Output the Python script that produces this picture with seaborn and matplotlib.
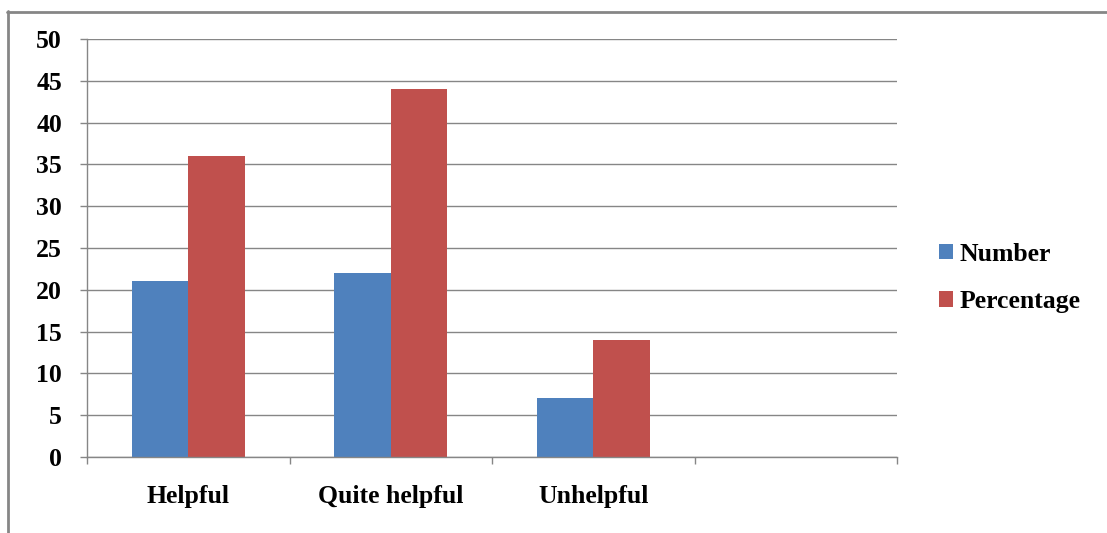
import matplotlib
matplotlib.use("Agg")
import matplotlib.pyplot as plt
from matplotlib.lines import Line2D
from matplotlib.patches import Patch
import seaborn as sns
import pandas as pd

categories = ["Helpful", "Quite helpful", "Unhelpful"]
number = [21, 22, 7]
percentage = [36, 44, 14]
series_names = ["Number", "Percentage"]
y_ticks = [0, 5, 10, 15, 20, 25, 30, 35, 40, 45, 50]

colors = ["#4F81BD", "#C0504D"]
grid_gray = "#868686"

df = pd.DataFrame({
    "category": categories * 2,
    "series": [series_names[0]] * len(categories) + [series_names[1]] * len(categories),
    "value": number + percentage,
})

sns.set_theme(style="white")
plt.rcParams["font.family"] = ["Liberation Serif", "DejaVu Serif"]
plt.rcParams["font.weight"] = "bold"
plt.rcParams["text.color"] = "black"
plt.rcParams["xtick.labelcolor"] = "black"
plt.rcParams["ytick.labelcolor"] = "black"

fig = plt.figure(figsize=(11.07, 5.33), dpi=100)
ax = fig.add_axes([87 / 1107, 1 - 457 / 533, (897 - 87) / 1107, (457 - 39) / 533])

sns.barplot(data=df, x="category", y="value", hue="series", order=categories,
            hue_order=series_names, palette=colors, width=0.56, saturation=1,
            linewidth=0, edgecolor="none", ax=ax, legend=False)

ax.set_xlim(-0.5, 3.5)
ax.set_ylim(0, 50)
ax.set_xlabel("")
ax.set_ylabel("")

# horizontal gridlines
ax.set_yticks(y_ticks)
ax.set_yticklabels([str(v) for v in y_ticks])
ax.yaxis.grid(True, color=grid_gray, linewidth=1.0)
ax.set_axisbelow(True)
ax.tick_params(axis="y", length=5, width=1, color=grid_gray, pad=13,
               labelsize=18.5, labelcolor="black", left=True)

# category boundary ticks and centered labels
ax.set_xticks([-0.5, 0.5, 1.5, 2.5, 3.5])
ax.set_xticklabels([])
ax.set_xticks(range(len(categories)), minor=True)
ax.set_xticklabels(categories, minor=True)
ax.tick_params(axis="x", which="major", length=5, width=1, color=grid_gray, bottom=True)
ax.tick_params(axis="x", which="minor", length=0, pad=20, labelsize=18.5, labelcolor="black")
for lab in ax.get_yticklabels() + ax.get_xticklabels(minor=True):
    lab.set_fontweight("bold")
    lab.set_color("black")

for side in ["top", "right"]:
    ax.spines[side].set_visible(False)
for side in ["left", "bottom"]:
    ax.spines[side].set_color(grid_gray)
    ax.spines[side].set_linewidth(1.0)

handles = [Patch(facecolor=c, edgecolor="none", label=n) for c, n in zip(colors, series_names)]
leg = fig.legend(handles=handles, loc="center left", bbox_to_anchor=(916 / 1107, 1 - 278 / 533),
                 frameon=False, handlelength=0.55, handleheight=0.55, handletextpad=0.25,
                 labelspacing=0.95, prop={"size": 18.5, "weight": "bold"})
for t in leg.get_texts():
    t.set_color("black")

# outer chart frame
fig.add_artist(Line2D([7.5 / 1107, 7.5 / 1107], [0, 1 - 11 / 533], color=grid_gray,
                      linewidth=2, transform=fig.transFigure))
fig.add_artist(Line2D([7 / 1107, 1], [1 - 11.5 / 533, 1 - 11.5 / 533], color=grid_gray,
                      linewidth=2, transform=fig.transFigure))

fig.savefig("out.png", dpi=100)
